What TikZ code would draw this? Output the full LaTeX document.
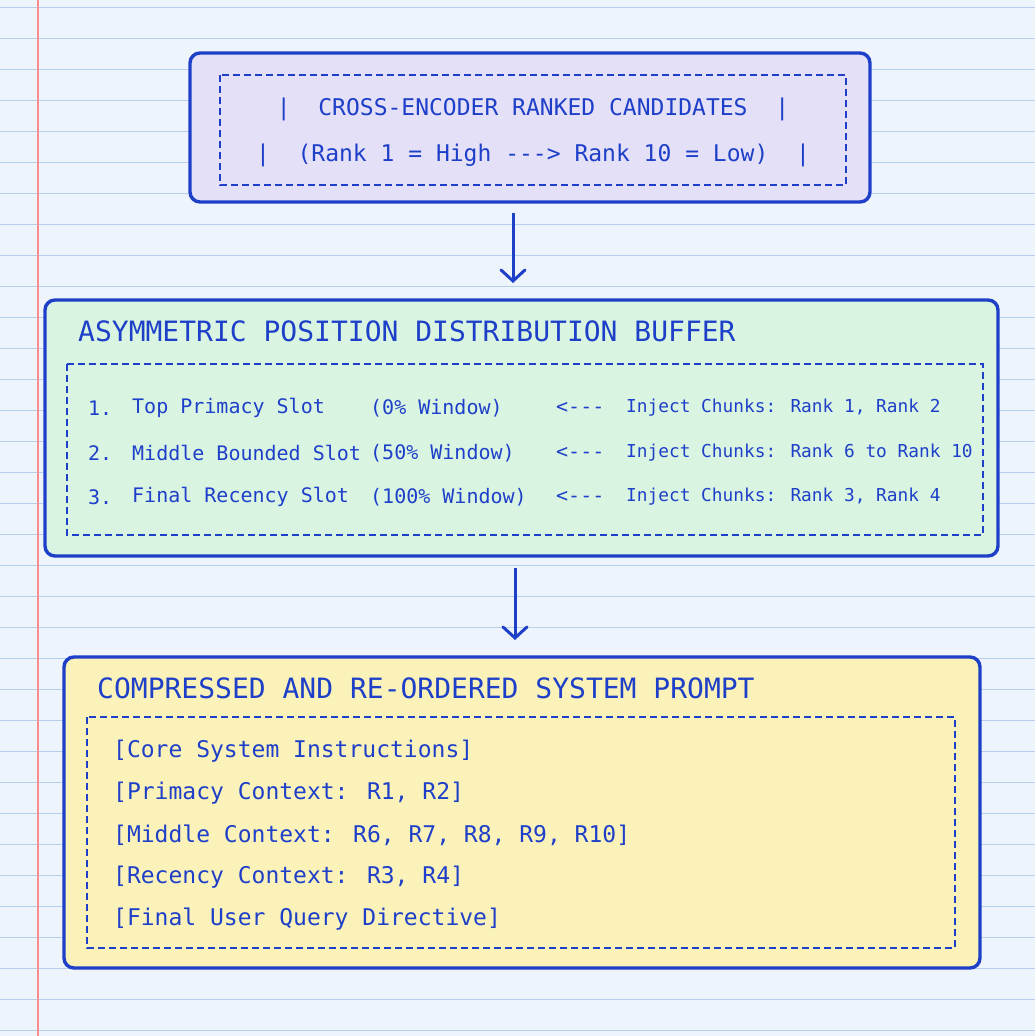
\documentclass[tikz,border=0pt]{standalone}
\usepackage{fontspec}
\setmainfont{DejaVu Sans Mono}
\usetikzlibrary{positioning,arrows.meta}
\definecolor{ink}{HTML}{1E3FC8}
\definecolor{paper}{HTML}{EEF4FB}
\definecolor{rule}{HTML}{B5CFEC}
\definecolor{lav}{HTML}{E4E0F8}
\definecolor{mint}{HTML}{D9F5E2}
\definecolor{sun}{HTML}{FBF2B9}
\begin{document}
\begin{tikzpicture}[x=1pt,y=-1pt,
    box/.style={draw=ink,line width=3.4pt,rounded corners=10pt},
    inbox/.style={draw=ink,line width=1.3pt,dash pattern=on 7pt off 4pt},
    txt/.style={text=ink,anchor=west,inner sep=0pt,font=\fontsize{20}{24}\selectfont},
    ttl/.style={txt,font=\fontsize{28}{30}\selectfont},
    arr/.style={draw=ink,line width=3pt,-{Straight Barb[length=11pt,width=24pt,line cap=round]}}]
 % paper
 \fill[paper] (0,0) rectangle (1035,1036);
 \useasboundingbox (0,0) rectangle (1035,1036);
 \foreach \y in {7,38,...,1036} {\draw[rule,line width=1pt] (0,\y) -- (1035,\y);}
 \draw[red!45,line width=1.2pt] (38,0) -- (38,1036);
 % ranked candidates
 \draw[box,fill=lav] (190,53) rectangle (870,202);
 \draw[inbox] (220,75) rectangle (846,185);
 \node[txt,anchor=center,font=\fontsize{23}{26}\selectfont] (rank) at (533,109) {|\ \ CROSS-ENCODER RANKED CANDIDATES\ \ |};
 \node[txt,anchor=center,font=\fontsize{23}{26}\selectfont] (rng) at (533,155) {|\ \ (Rank 1 = High {-}{-}{-}> Rank 10 = Low)\ \ |};
 % buffer
 \draw[box,fill=mint] (45,300) rectangle (998,556);
 \draw[inbox] (67,364) rectangle (983,535);
 \node[ttl] (buf) at (78,331) {ASYMMETRIC POSITION DISTRIBUTION BUFFER};
 \foreach \n/\s/\w/\r/\y in {1/Top Primacy Slot/(0\% Window)/Rank 1{,} Rank 2/408,
     2/Middle Bounded Slot/(50\% Window)/Rank 6 to Rank 10/453,
     3/Final Recency Slot/(100\% Window)/Rank 3{,} Rank 4/497} {
   \node[txt] (num\n) at (88,\y) {\n.};
   \node[txt] (slot\n) at (132,\y) {\s};
   \node[txt] (win\n) at (370,\y) {\w};
   \node[txt] (ptr\n) at (556,\y) {<{-}{-}{-}};
   \node[txt,font=\fontsize{17.8}{22}\selectfont] (inj\n) at (626,\y) {Inject Chunks: \r};
 }
 % prompt
 \draw[box,fill=sun] (64,657) rectangle (980,968);
 \draw[inbox] (87,717) rectangle (955,948);
 \node[ttl] (prm) at (97,688) {COMPRESSED AND RE-ORDERED SYSTEM PROMPT};
 \foreach \t [count=\i] in {{[Core System Instructions]},{[Primacy Context: R1, R2]},
     {[Middle Context: R6, R7, R8, R9, R10]},{[Recency Context: R3, R4]},{[Final User Query Directive]}} {
   \node[txt,font=\fontsize{23}{26}\selectfont] (ln\i) at (113,709+42*\i) {\t};
 }
 % flow
 \coordinate (a1) at (513,213); \coordinate (b1) at (513,283);
 \coordinate (a2) at (515,568); \coordinate (b2) at (515,640);
 \draw[arr] (a1) -- (b1);
 \draw[arr] (a2) -- (b2);
\end{tikzpicture}
\end{document}
